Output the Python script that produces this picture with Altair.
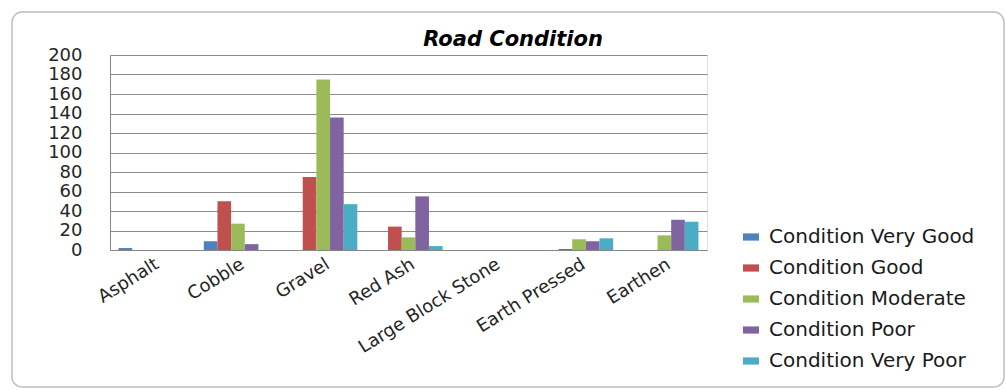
import altair as alt
import pandas as pd

surfaces = ["Asphalt", "Cobble", "Gravel", "Red Ash", "Large Block Stone", "Earth Pressed", "Earthen"]
conditions = ["Condition Very Good", "Condition Good", "Condition Moderate",
              "Condition Poor", "Condition Very Poor"]
very_good = [2, 9, 0, 0, 0, 0, 0]
good = [0, 50, 75, 24, 0, 1, 0]
moderate = [0, 27, 175, 13, 0, 11, 15]
poor = [0, 6, 136, 55, 0, 9, 31]
very_poor = [0, 0, 47, 4, 0, 12, 29]
colors = ["#4F81BD", "#C0504D", "#9BBB59", "#8064A2", "#4BACC6"]
y_ticks = list(range(0, 201, 20))
title_text = ["Road Condition"]

series = [very_good, good, moderate, poor, very_poor]
rows = []
for cond, vals in zip(conditions, series):
    for s, v in zip(surfaces, vals):
        rows.append({"Surface": s, "Condition": cond, "Count": v})
df = pd.DataFrame(rows)

PL, PT, W, H = 110, 55, 597, 195

border = alt.Chart(pd.DataFrame({"k": [0]})).mark_rect(
    filled=False, stroke="#BFBFBF", strokeWidth=1.5, cornerRadius=10
).encode(
    x=alt.value(12 - PL), x2=alt.value(1004 - PL),
    y=alt.value(12 - PT), y2=alt.value(387 - PT)
)

title = alt.Chart(pd.DataFrame({"t": title_text})).mark_text(
    font="DejaVu Sans", fontSize=21, fontStyle="italic", fontWeight="bold",
    color="#000000", align="center", baseline="alphabetic"
).encode(text="t:N", x=alt.value(513 - PL), y=alt.value(46 - PT))

bars = alt.Chart(df).mark_bar().encode(
    x=alt.X("Surface:N", sort=surfaces,
            scale=alt.Scale(paddingInner=0.2, paddingOuter=0.1),
            axis=alt.Axis(title=None, labelAngle=328, labelFontSize=18,
                          labelFont="DejaVu Sans", labelColor="#262626",
                          ticks=False, domainColor="#868686", labelPadding=5,
                          labelLimit=0)),
    xOffset=alt.XOffset("Condition:N", sort=conditions,
                        scale=alt.Scale(paddingInner=0, paddingOuter=0)),
    y=alt.Y("Count:Q", scale=alt.Scale(domain=[0, 200], nice=False),
            axis=alt.Axis(title=None, values=y_ticks, labelFontSize=18,
                          labelFont="DejaVu Sans", labelColor="#262626",
                          ticks=False, labelPadding=28, domainColor="#868686",
                          gridColor="#8C8C8C", gridWidth=1)),
    color=alt.Color("Condition:N", sort=conditions,
                    scale=alt.Scale(domain=conditions, range=colors),
                    legend=alt.Legend(title=None, orient="none",
                                      legendX=631, legendY=172,
                                      symbolType="M-1,-0.45L1,-0.45L1,0.45L-1,0.45Z",
                                      symbolSize=256, symbolStrokeWidth=0,
                                      labelFont="DejaVu Sans", labelFontSize=20,
                                      labelColor="#1a1a1a", rowPadding=11,
                                      labelOffset=8, labelLimit=0)),
)

chart = alt.layer(border, bars, title).properties(
    width=W, height=H,
    autosize=alt.AutoSizeParams(type="none"),
    padding={"left": PL, "top": PT, "right": 1006 - PL - W, "bottom": 390 - PT - H},
).configure_view(stroke=None).configure(background="white")

chart.save("out.html", embed_options={"renderer": "svg", "actions": False})
